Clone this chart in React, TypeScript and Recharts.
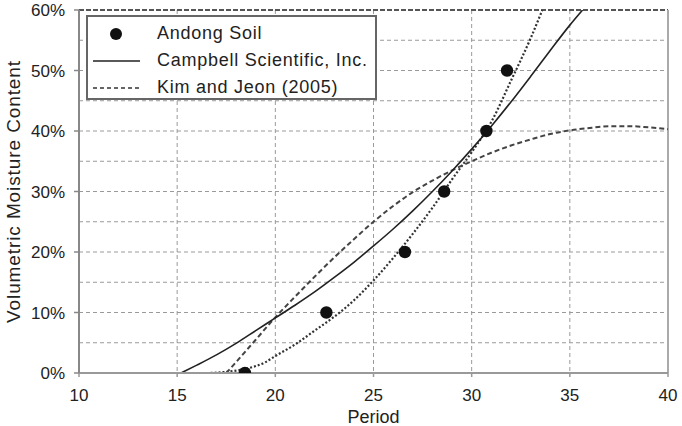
import React from "react";
import {
  ComposedChart,
  Line,
  Scatter,
  XAxis,
  YAxis,
  CartesianGrid,
  Legend,
  ReferenceLine,
} from "recharts";

// Andong Soil measurements (period vs volumetric moisture, %)
const andongPeriod = [18.45, 22.6, 26.6, 28.6, 30.75, 31.8];
const andongMoisture = [0, 10, 20, 30, 40, 50];

// Campbell Scientific, Inc. calibration
const campbellPeriod = [15.2, 16, 17, 18, 19, 20, 21, 22, 23, 24, 25, 26, 27, 28, 29, 30, 31, 32, 33, 34, 35, 35.65];
const campbellMoisture = [0, 1.3, 3.0, 4.9, 7.0, 9.1, 11.2, 13.4, 15.8, 18.3, 21, 23.8, 26.8, 30.0, 33.4, 37.0, 40.8, 44.8, 49.0, 53.3, 57.5, 60];

// Kim and Jeon (2005)
const kimPeriod = [17.5, 18, 19, 20, 21, 22, 23, 24, 25, 26, 27, 28, 29, 30, 31, 32, 33, 34, 35, 36, 37, 38, 39, 40];
const kimMoisture = [0, 1.8, 5.5, 9.2, 12.6, 15.9, 19.1, 22.1, 25, 27.6, 29.9, 31.8, 33.5, 35, 36.4, 37.6, 38.6, 39.5, 40.1, 40.5, 40.8, 40.8, 40.6, 40.3];

// fitted curve through the Andong points (not in legend)
const fitPeriod = [16.7, 17.5, 18.5, 19.5, 20, 21, 22, 23, 24, 25, 26, 27, 28, 29, 30, 31, 32, 33, 33.6];
const fitMoisture = [0, 0.2, 0.7, 1.8, 2.8, 4.7, 7.0, 9.3, 12, 15.3, 19, 23, 27.3, 32, 36.5, 41.5, 48.3, 55.3, 60];

const xTicks = [10, 15, 20, 25, 30, 35, 40];
const yTicks = [0, 10, 20, 30, 40, 50, 60];

const toPoints = (xs: number[], ys: number[]) => xs.map((x, i) => ({ x, y: ys[i] }));

const FONT = "'Liberation Sans', Arial, sans-serif";
const TEXT = "#222";

function LegendBox() {
  const row: React.CSSProperties = { display: "flex", alignItems: "center", height: 27 };
  const marker: React.CSSProperties = { width: 64, marginLeft: 5, flex: "none" };
  return (
    <div
      style={{
        background: "#fff",
        border: "2px solid #666",
        width: 291,
        height: 85,
        boxSizing: "border-box",
        paddingTop: 3,
        fontFamily: FONT,
        fontSize: 18,
        letterSpacing: "0.75px",
        color: TEXT,
        lineHeight: "27px",
        whiteSpace: "nowrap",
      }}
    >
      <div style={row}>
        <svg style={marker} width={64} height={16}>
          <circle cx={23} cy={8} r={6} fill="#111" />
        </svg>
        <span>Andong Soil</span>
      </div>
      <div style={row}>
        <svg style={marker} width={64} height={16}>
          <line x1={0} x2={47} y1={8} y2={8} stroke="#222" strokeWidth={1.6} />
        </svg>
        <span>Campbell Scientific, Inc.</span>
      </div>
      <div style={row}>
        <svg style={marker} width={64} height={16}>
          <line x1={0} x2={47} y1={8} y2={8} stroke="#333" strokeWidth={1.6} strokeDasharray="4 3" />
        </svg>
        <span>Kim and Jeon (2005)</span>
      </div>
    </div>
  );
}

export default function App() {
  return (
    <div style={{ position: "absolute", left: 0, top: 0, background: "#fff" }}>
      <ComposedChart
        width={682}
        height={426}
        margin={{ top: 10, right: 14, bottom: 0, left: 0 }}
        style={{ fontFamily: FONT }}
      >
        <CartesianGrid
          stroke="#9a9a9a"
          strokeDasharray="4 3"
          horizontalValues={[5, 10, 15, 20, 25, 30, 35, 40, 45, 50, 55]}
          verticalValues={[15, 20, 25, 30, 35]}
        />
        <XAxis
          type="number"
          dataKey="x"
          domain={[10, 40]}
          ticks={xTicks}
          allowDataOverflow
          tickSize={4}
          tickMargin={12}
          height={53}
          axisLine={{ stroke: "#999", strokeWidth: 2 }}
          tickLine={{ stroke: "#999", strokeWidth: 1.5 }}
          tick={{ fill: TEXT, fontSize: 17 }}
          label={{ value: "Period", position: "insideBottom", offset: 3, style: { fill: TEXT, fontSize: 18 } }}
        />
        <YAxis
          type="number"
          dataKey="y"
          domain={[0, 60]}
          ticks={yTicks}
          allowDataOverflow
          width={79}
          tickSize={5}
          tickMargin={9}
          tickFormatter={(v) => `${v}%`}
          axisLine={{ stroke: "#888", strokeWidth: 2 }}
          tickLine={{ stroke: "#888", strokeWidth: 1.5 }}
          tick={{ fill: TEXT, fontSize: 17 }}
          label={{
            value: "Volumetric Moisture Content",
            angle: -90,
            position: "insideLeft",
            offset: 13,
            style: { textAnchor: "middle", fill: TEXT, fontSize: 19, letterSpacing: "0.9px" },
          }}
        />
        <ReferenceLine y={60} stroke="#555" strokeWidth={2} strokeDasharray="5 2" />
        <ReferenceLine x={40} stroke="#aaa" strokeWidth={2} />
        <Line
          data={toPoints(fitPeriod, fitMoisture)}
          dataKey="y"
          type="monotone"
          stroke="#333"
          strokeWidth={2.2}
          strokeDasharray="2 2"
          dot={false}
          legendType="none"
          isAnimationActive={false}
        />
        <Line
          data={toPoints(kimPeriod, kimMoisture)}
          dataKey="y"
          name="Kim and Jeon (2005)"
          type="monotone"
          stroke="#444"
          strokeWidth={2}
          strokeDasharray="5 3"
          dot={false}
          isAnimationActive={false}
        />
        <Line
          data={toPoints(campbellPeriod, campbellMoisture)}
          dataKey="y"
          name="Campbell Scientific, Inc."
          type="monotone"
          stroke="#222"
          strokeWidth={1.6}
          dot={false}
          isAnimationActive={false}
        />
        <Scatter
          data={toPoints(andongPeriod, andongMoisture)}
          dataKey="y"
          name="Andong Soil"
          fill="#111"
          shape={(p: any) => <circle cx={p.cx} cy={p.cy} r={6.2} fill="#111" />}
          isAnimationActive={false}
        />
        <Legend
          layout="vertical"
          align="center"
          verticalAlign="middle"
          wrapperStyle={{ left: 86, top: 15, width: 291, height: 85 }}
          content={() => <LegendBox />}
        />
      </ComposedChart>
    </div>
  );
}
